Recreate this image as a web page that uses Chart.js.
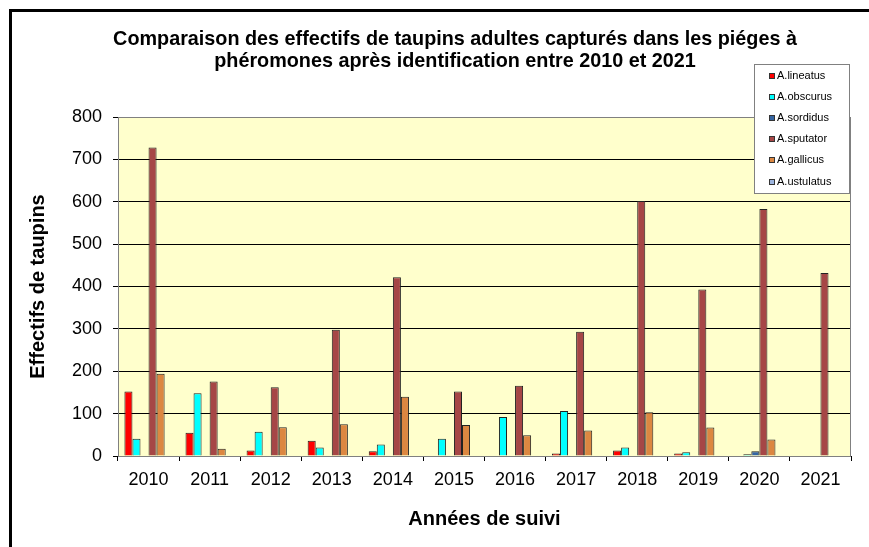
<!DOCTYPE html>
<html>
<head>
<meta charset="utf-8">
<script src="https://cdn.jsdelivr.net/npm/chart.js@4/dist/chart.umd.min.js"></script>
<style>
  html, body { margin: 0; padding: 0; background: #fff; overflow: hidden; }
  .frame { position: absolute; left: 9px; top: 9px; width: 900px; height: 600px; border-left: 3px solid #000; border-top: 3px solid #000; }
  .chart-box { position: absolute; left: 12px; top: 12px; width: 857px; height: 535px; }
</style>
</head>
<body>
<div class="frame"></div>
<div class="chart-box"><canvas id="taupins-chart"></canvas></div>
<script>
// Data
const years = ['2010', '2011', '2012', '2013', '2014', '2015', '2016', '2017', '2018', '2019', '2020', '2021']
const lineatus = [152, 55, 13, 36, 11, 1, 1, 6, 13, 6, 0, 0]
const obscurus = [41, 148, 57, 20, 27, 41, 92, 106, 20, 9, 4, 0]
const sordidus = [0, 0, 0, 1, 1, 1, 1, 0, 0, 1, 11, 0]
const sputator = [728, 176, 162, 298, 422, 152, 166, 293, 602, 393, 583, 432]
const gallicus = [194, 17, 68, 75, 140, 73, 49, 60, 103, 67, 39, 0]
const ustulatus = [0, 0, 0, 0, 0, 0, 0, 0, 0, 0, 0, 0]
const yTicks = [0, 100, 200, 300, 400, 500, 600, 700, 800]
const titleLines = [
  'Comparaison des effectifs de taupins adultes capturés dans les piéges à',
  'phéromones après identification entre 2010 et 2021'
]

const fontFamily = 'Arial, "Liberation Sans", sans-serif'

// zero values are not drawn
const clean = (list) => list.map((v) => (v === 0 ? null : v))

const series = [
  { label: 'A.lineatus', data: lineatus, color: '#ff0000' },
  { label: 'A.obscurus', data: obscurus, color: '#00ffff' },
  { label: 'A.sordidus', data: sordidus, color: '#3565a2' },
  { label: 'A.sputator', data: sputator, color: '#a64646' },
  { label: 'A.gallicus', data: gallicus, color: '#dc8741' },
  { label: 'A.ustulatus', data: ustulatus, color: '#9db5de' }
]

// Plot background + grey frame
const plotArea = {
  id: 'plotArea',
  beforeDraw: (chart) => {
    const { ctx, chartArea } = chart
    ctx.save()
    ctx.fillStyle = '#ffffcc'
    ctx.fillRect(chartArea.left, chartArea.top, chartArea.width, chartArea.height)
    ctx.restore()
  },
  beforeDatasetsDraw: (chart) => {
    const { ctx, chartArea } = chart
    ctx.save()
    ctx.strokeStyle = '#808080'
    ctx.lineWidth = 1
    ctx.strokeRect(chartArea.left + 0.5, chartArea.top + 0.5, chartArea.width - 1, chartArea.height)
    ctx.restore()
  }
}

// Two line title, centred like the original (not on the canvas middle)
const chartTitle = {
  id: 'chartTitle',
  afterDraw: (chart) => {
    const { ctx } = chart
    ctx.save()
    ctx.font = 'bold 19.8px ' + fontFamily
    ctx.fillStyle = '#000'
    ctx.textAlign = 'center'
    ctx.textBaseline = 'middle'
    titleLines.forEach((line, i) => {
      ctx.fillText(line, 443, 28 + i * 22)
    })
    ctx.restore()
  }
}

// Boxed legend in the top right corner
const boxLegend = {
  id: 'boxLegend',
  afterDraw: (chart) => {
    const { ctx } = chart
    const x = 742
    const y = 52
    const w = 95
    const h = 129
    ctx.save()
    ctx.fillStyle = '#fff'
    ctx.fillRect(x, y, w, h)
    ctx.strokeStyle = '#808080'
    ctx.lineWidth = 1
    ctx.strokeRect(x + 0.5, y + 0.5, w, h)
    ctx.font = '11px ' + fontFamily
    ctx.textBaseline = 'middle'
    chart.data.datasets.forEach((dataset, i) => {
      const cy = y + 11.5 + i * 21.2
      ctx.fillStyle = dataset.backgroundColor
      ctx.fillRect(x + 15, Math.round(cy) - 3, 6, 6)
      ctx.strokeStyle = '#333'
      ctx.strokeRect(x + 15.5, Math.round(cy) - 2.5, 5, 5)
      ctx.fillStyle = '#000'
      ctx.fillText(dataset.label, x + 23, cy)
    })
    ctx.restore()
  }
}

const taupinsChart = document.querySelector('#taupins-chart')
if (taupinsChart) {
  new Chart(taupinsChart, {
    type: 'bar',
    data: {
      labels: years,
      datasets: series.map((s) => ({
        label: s.label,
        data: clean(s.data),
        backgroundColor: s.color,
        borderColor: '#222',
        borderWidth: 1,
        borderSkipped: 'bottom',
        barPercentage: 1,
        categoryPercentage: 0.79
      }))
    },
    options: {
      responsive: true,
      maintainAspectRatio: false,
      animation: false,
      layout: {
        padding: { left: 0, right: 18, top: 105, bottom: 0 }
      },
      plugins: {
        legend: { display: false },
        tooltip: { enabled: false },
        title: { display: false }
      },
      scales: {
        x: {
          afterFit: (scale) => { scale.height = 91 },
          grid: {
            offset: true,
            drawOnChartArea: false,
            color: '#000',
            tickLength: 5
          },
          border: { color: '#000' },
          ticks: {
            color: '#000',
            padding: 8,
            font: { family: fontFamily, size: 18 }
          },
          title: {
            display: true,
            text: 'Années de suivi',
            color: '#000',
            font: { family: fontFamily, size: 20, weight: 'bold' },
            padding: { top: 0, bottom: 16 }
          }
        },
        y: {
          min: 0,
          max: 800,
          afterFit: (scale) => { scale.width = 106 },
          afterBuildTicks: (scale) => {
            scale.ticks = yTicks.map((v) => ({ value: v }))
          },
          grid: {
            color: '#000',
            tickLength: 5
          },
          border: { color: '#808080' },
          ticks: {
            color: '#000',
            padding: 11,
            font: { family: fontFamily, size: 18 }
          },
          title: {
            display: true,
            text: 'Effectifs de taupins',
            color: '#000',
            font: { family: fontFamily, size: 20, weight: 'bold' },
            padding: { top: 14, bottom: 0 }
          }
        }
      }
    },
    plugins: [plotArea, chartTitle, boxLegend]
  })
}
</script>
</body>
</html>
